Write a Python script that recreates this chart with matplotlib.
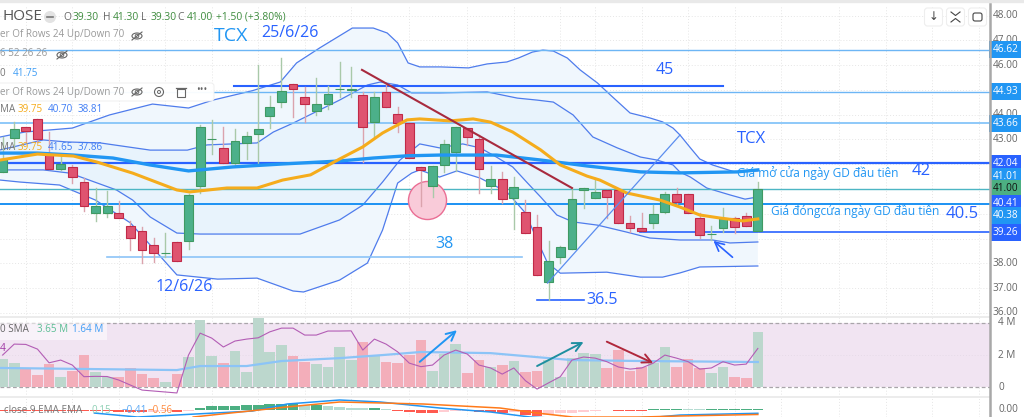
import matplotlib
matplotlib.use("Agg")
import matplotlib.pyplot as plt
from matplotlib.lines import Line2D
from matplotlib.patches import Rectangle, FancyBboxPatch, Ellipse, Circle
from matplotlib.transforms import Affine2D

plt.rcParams['font.family'] = ['Open Sans', 'DejaVu Sans']

# candles
opens = [41.67,43.07,43.49,43.81,42.41,41.79,41.90,41.27,40.02,40.02,40.02,39.50,39.31,38.74,38.42,38.86,
         38.91,41.12,43.01,42.64,42.04,42.84,43.21,43.96,44.53,45.23,44.73,44.16,44.42,45.02,45.01,44.80,
         43.69,44.91,44.02,43.65,41.90,41.12,41.97,42.51,43.45,43.02,41.12,41.42,40.62,40.06,39.48,37.23,
         38.26,38.59,40.96,40.62,40.97,40.96,39.61,39.41,39.61,40.06,40.80,40.80,39.82,39.17,39.41,39.82,39.91,39.30]
closes = [42.20,43.41,43.35,43.02,41.79,42.01,41.50,40.31,40.31,40.31,39.82,39.01,38.53,38.42,38.43,38.10,
          40.76,43.49,43.02,42.04,42.95,43.14,43.41,44.30,44.97,45.03,44.42,44.42,44.84,45.03,45.02,43.52,
          44.73,44.32,43.65,42.24,41.77,41.94,42.80,43.49,43.11,41.81,41.42,40.58,41.09,39.23,37.53,38.10,
          38.67,40.58,41.03,40.89,40.66,39.61,39.41,39.30,39.99,40.80,40.49,40.02,39.14,39.18,39.82,39.48,39.52,41.00]
highs = [43.10,43.71,43.49,43.81,43.30,42.37,41.97,41.44,41.04,40.93,40.51,39.72,39.45,39.01,39.21,38.86,
         40.80,43.58,43.79,43.49,43.41,43.31,46.01,44.76,46.28,45.23,45.11,45.50,45.16,46.13,45.93,44.93,
         44.93,45.27,44.32,43.65,41.90,41.94,42.98,43.49,43.45,43.18,41.94,41.70,41.47,40.55,39.95,38.91,
         38.71,41.03,41.03,41.43,40.97,40.96,39.91,40.02,40.35,40.89,41.04,40.80,40.03,39.50,40.23,39.88,40.03,41.30]
lows = [41.67,42.70,42.91,42.90,41.79,41.77,41.25,40.11,39.72,39.88,39.82,38.53,38.02,38.06,38.24,38.10,
        38.56,40.83,42.41,42.04,41.97,42.20,41.97,43.45,44.32,43.92,43.72,43.99,44.23,44.72,44.72,42.10,
        43.09,44.32,43.31,42.24,40.31,40.69,41.70,41.74,42.78,40.85,40.83,40.42,39.37,39.23,37.53,36.51,
        38.02,38.59,40.22,40.62,39.84,39.61,39.28,39.30,39.41,40.03,40.35,40.02,39.02,38.94,39.28,39.23,39.52,39.30]

# moving averages and bands: candle number, price
ma_yellow_i = [-0.2,3.0,6.1,8.1,11.2,15.0,16.1,19.3,21.9,24.1,26.5,29.0,31.0,32.7,34.8,35.9,38.5,40.5,42.0,43.9,46.3,48.0,50.3,51.4,53.7,56.6,58.3,60.0,61.7,63.7,65.0]
ma_yellow = [42.17,42.41,42.33,42.09,41.64,40.96,40.88,41.04,41.04,41.36,41.57,42.21,42.70,43.26,43.79,43.83,43.75,43.83,43.70,43.30,42.58,41.97,41.52,41.36,40.84,40.55,40.27,39.95,39.83,39.71,39.79]
ma_blue_i = [-0.2,3.0,6.1,9.5,12.7,16.0,19.8,24.1,29.0,31.9,34.8,37.6,42.5,46.3,50.3,54.9,58.3,63.2,65.0]
ma_blue = [42.45,42.45,42.37,42.25,41.97,41.73,41.89,42.01,42.13,42.25,42.34,42.37,42.37,42.17,41.93,41.69,41.65,41.69,41.77]

outer_up_i = [-0.2,1.9,6.0,9.2,12.9,16.0,18.1,21.5,23.9,25.3,27.3,30.1,31.9,33.1,34.0,34.9,35.9,37.7,40.1,41.7,43.4,44.4,45.6,46.5,47.4,48.6,49.7,51.2,52.3,54.0,55.7,56.8,57.7,58.3,59.2,60.0,61.1,63.0,65.0]
outer_up = [43.10,43.30,43.46,43.99,44.43,44.27,44.59,44.97,45.32,46.09,46.70,47.50,47.50,47.30,46.90,46.09,45.93,45.93,45.89,46.05,46.13,46.29,46.53,46.61,46.57,46.29,45.81,45.28,44.80,44.07,43.87,43.71,43.46,43.18,42.66,42.21,41.97,41.69,41.73]
inner_up_i = [-0.2,3.5,5.5,8.4,12.7,15.9,17.6,21.9,23.3,25.0,29.0,31.4,32.5,34.0,35.2,37.6,41.7,44.3,46.0,47.4,49.1,50.8,52.9,54.9,56.3,57.7,58.3,59.2,60.6,62.6,63.9,65.0]
inner_up = [42.58,42.98,42.90,42.86,42.57,42.57,42.78,42.86,43.30,43.66,44.59,45.20,45.32,45.20,44.88,44.88,44.92,44.67,44.59,44.51,43.99,43.10,42.66,42.29,42.17,41.97,41.68,41.48,41.04,40.76,40.59,40.68]
inner_lo_i = [-0.2,3.5,5.8,9.8,11.2,12.7,15.0,17.0,22.8,25.6,29.0,31.0,32.7,34.2,35.9,37.6,39.6,41.1,42.5,43.9,45.1,46.3,47.7,49.1,51.2,53.7,55.7,58.3,61.1,62.6,65.0]
inner_lo = [41.77,41.77,41.64,40.96,40.55,39.87,39.22,39.18,39.18,39.18,39.75,40.35,41.28,42.17,42.82,42.66,42.82,42.66,42.29,41.89,41.28,40.68,39.95,39.67,39.54,39.26,39.02,38.94,38.94,38.82,38.86]
outer_lo_i = [-0.2,1.5,4.9,8.0,11.0,15.0,18.5,21.9,25.0,25.9,29.0,31.4,32.7,34.0,35.2,35.9,37.6,39.1,41.1,43.4,45.0,46.0,46.9,48.0,52.0,54.9,56.8,58.3,60.0,65.0]
outer_lo = [41.36,41.28,41.16,40.55,39.63,37.53,37.36,37.40,36.88,36.84,37.32,38.01,39.34,41.24,41.64,41.77,41.48,41.73,41.44,40.88,40.03,38.94,38.01,37.60,37.64,37.44,37.44,37.61,37.85,37.89]

# volume panel (millions)
volumes = [1.75,1.52,1.13,0.76,1.46,0.66,1.01,2.00,0.93,0.62,0.62,1.18,0.80,0.59,0.35,0.80,1.86,4.17,1.94,1.49,2.25,0.93,4.29,2.17,2.62,1.94,1.59,1.44,1.28,2.51,1.69,2.82,2.00,1.59,1.49,2.00,2.93,1.01,2.06,2.68,0.87,1.69,1.24,1.38,1.65,0.95,0.99,1.69,0.66,1.80,2.11,2.08,1.18,2.31,1.03,1.24,1.49,2.48,1.28,1.75,1.18,0.90,1.28,0.66,0.59,3.44]
vol_purple = [2.00,2.68,2.66,2.37,1.52,1.69,1.38,0.66,0.68,0.67,0.45,0.14,-0.17,-0.23,-0.29,-0.35,2.00,3.36,3.05,2.50,2.87,2.99,3.07,3.44,3.67,3.67,3.24,3.24,3.49,3.49,3.50,2.31,2.99,2.68,2.20,1.50,1.28,1.38,2.00,2.31,2.06,1.38,1.20,0.82,1.20,0.41,-0.11,0.28,0.66,1.69,1.88,1.81,1.59,1.26,1.13,1.20,1.50,2.00,1.81,1.59,1.13,1.20,1.59,1.38,1.44,2.41]
vol_sma_i = [-0.2,15,17,21,24,29,32.7,36,42,47,49,55,65]
vol_sma = [1.20,1.07,1.32,1.32,1.63,1.81,2.00,2.19,2.12,1.81,1.69,1.63,1.57]

# macd panel
macd_hist = [-0.1,-0.1,-0.1,-0.1,-0.1,-0.1,-0.1,-0.1,-0.1,-0.1,-0.3,-0.3,-0.3,-0.2,-0.15,-0.2,-0.15,0.29,0.5,0.5,0.54,0.6,0.6,0.75,0.8,0.8,0.6,0.6,0.5,0.41,0.29,0.2,0.2,0.12,-0.12,-0.25,-0.33,-0.42,-0.2,-0.17,-0.12,-0.25,-0.3,-0.42,-0.2,-0.67,-0.75,-0.67,-0.42,-0.37,-0.2,-0.08,-0.04,-0.12,-0.12,-0.12,0.08,0.12,0.17,0.12,0.1,0.1,0.12,0.12,0.15,0.15]
macd_i = [7.9,11.6,21.5,24.5,29,32.5,37.6,42,45.4,50,56.3,58.3,65]
macd = [-0.38,-0.88,-0.13,0.75,1.25,1.0,0.25,-0.25,-0.88,-1.2,-0.88,-0.63,-0.41]
signal_i = [16.4,24.5,29,36.2,42.8,46,49.1,54.9,58.3,65]
signal = [-0.88,0.38,1.0,0.75,0.25,-0.38,-0.88,-0.88,-0.75,-0.56]

# price levels and axis tags
levels = [46.62,44.93,43.66,42.04,41.00,40.41,40.38]
level_colors = ["#6db6f5","#6db6f5","#7cc0f8","#2962ff","#4db6c4","#2962ff","#2196f3"]
level_widths = [1,1,1.2,1.6,1,1.4,1.4]
price_ticks = [48,47,46,44,43,38,37,36]
tag_values = ["46.62","44.93","43.66","42.04","41.01","41.00","40.41","40.38","39.26"]
tag_prices = [46.62,44.93,43.66,42.04,41.49,41.03,40.41,39.93,39.26]
tag_colors = ["#2196f3","#2196f3","#2196f3","#2962ff","#2196f3","#4caf82","#2962ff","#2196f3","#2962ff"]
grid_i = [2,6,10,14,18,22,26,30,35,40,44,48,51,55,59,63,67,72,76,80,84]

GREEN, RED = "#4cb08a", "#df5470"
GREEN_E, RED_E = "#3f9a63", "#c02a48"
W, H = 1024, 417

fig = plt.figure(figsize=(W/100, H/100), dpi=100)
px = Affine2D().scale(1/W, -1/H).translate(0, 1) + fig.transFigure


def panel(top, bottom, y_top, y_bottom):
    ax = fig.add_axes([0, 1-bottom/H, 990/W, (bottom-top)/H])
    ax.set_xlim(-0.224, 84.98)
    ax.set_ylim(y_bottom, y_top)
    ax.axis("off")
    for g in grid_i:
        ax.axvline(g, color="#e6e6e6", lw=0.7, ls=(0, (1, 2)), zorder=0)
    return ax


ax = panel(6, 317, 48.39, 35.83)
vol = panel(317, 397, 4.36, -0.6)
mac = panel(398, 417, 1.5, -0.875)

for p in range(36, 49):
    ax.axhline(p, color="#e6e6e6", lw=0.7, ls=(0, (1, 2)), zorder=0)

# bands
ax.fill(outer_up_i + outer_lo_i[::-1], outer_up + outer_lo[::-1], color="#f0f7fd", lw=0, zorder=1)
ax.fill(inner_up_i + inner_lo_i[::-1], inner_up + inner_lo[::-1], color="#e8f3fc", lw=0, zorder=1.1)
for xs, ys in [(outer_up_i, outer_up), (inner_up_i, inner_up), (inner_lo_i, inner_lo), (outer_lo_i, outer_lo)]:
    ax.plot(xs, ys, color="#4f7cec", lw=0.9, zorder=2)

for lv, c, w in zip(levels, level_colors, level_widths):
    ax.axhline(lv, color=c, lw=w, zorder=2.5)
ax.plot([54.9, 85], [39.26, 39.26], color="#2962ff", lw=1.2, zorder=2.5)
ax.plot([9, 44.7], [38.27, 38.27], color="#8cc4f7", lw=1.2, zorder=2.5)
ax.plot([19.9, 62], [45.16, 45.16], color="#2962ff", lw=1.5, zorder=2.5)
ax.plot([46, 50], [36.51, 36.51], color="#2962ff", lw=1.2, zorder=2.5)

ax.scatter([36.5], [40.55], s=750, color="#f9cbd9", edgecolors="#ea6e94", lw=1, zorder=2.6)

# candles
for i in range(len(opens)):
    up = closes[i] >= opens[i]
    ax.plot([i, i], [lows[i], highs[i]], color="#a9c9a9" if up else "#dba3ad", lw=1, zorder=3)
    ax.bar(i, abs(closes[i]-opens[i]), bottom=min(opens[i], closes[i]), width=0.76,
           color=GREEN if up else RED, edgecolor=GREEN_E if up else RED_E, lw=0.8, zorder=3.2)

ax.plot(ma_blue_i, ma_blue, color="#2196f3", lw=2.4, zorder=4)
ax.plot(ma_yellow_i, ma_yellow, color="#f5ac1c", lw=2.2, zorder=4.1)
ax.plot([30.93, 49], [45.81, 41.04], color="#a82a3e", lw=1.5, zorder=4.2)
ax.plot([46.9, 58.3], [37.20, 43.18], color="#5b8def", lw=0.9, zorder=4.2)
ax.annotate("", xy=(61, 38.98), xytext=(63, 38.17), zorder=5,
            arrowprops=dict(arrowstyle="->", color="#2962ff", lw=1.2, mutation_scale=16))

for p in price_ticks:
    ax.text(1.0155, p, f"{p:.2f}", transform=ax.get_yaxis_transform(), ha="center", va="center",
            fontsize=7.2, color="#666666", clip_on=False)
for t, p, c in zip(tag_values, tag_prices, tag_colors):
    ax.text(1.0155, p, t, transform=ax.get_yaxis_transform(), ha="center", va="center", fontsize=7.2,
            color="#111111" if c == "#4caf82" else "white", clip_on=False, zorder=6,
            bbox=dict(boxstyle="square,pad=0.3", fc=c, ec="none"))

# volume panel
vol.axhspan(0, 4, color="#f1e4f2", lw=0, zorder=0.5)
for lv in [0, 4]:
    vol.axhline(lv, color="#a9a5aa", lw=0.9, ls=(0, (3, 2)), zorder=1)
for lv in [2]:
    vol.axhline(lv, color="#e6dbe8", lw=0.7, ls=(0, (1, 2)), zorder=0.6)
vol_colors = ["#bcd7cd" if c >= o else "#f3aeba" for o, c in zip(opens, closes)]
vol.bar(range(len(volumes)), volumes, width=0.92, color=vol_colors, zorder=2)
vol.plot(vol_sma_i, vol_sma, color="#8cc4f7", lw=1.6, zorder=3)
vol.plot(range(len(vol_purple)), vol_purple, color="#b35db5", lw=0.8, zorder=4)
for start, end, c in [((35.9, 1.58), (39.1, 3.54), "#2196f3"),
                      ((46, 1.32), (50, 2.81), "#1e8fa0"),
                      ((52, 2.83), (56, 1.50), "#b0283c")]:
    vol.annotate("", xy=end, xytext=start, zorder=5,
                 arrowprops=dict(arrowstyle="->", color=c, lw=1.4, mutation_scale=16, shrinkA=0, shrinkB=0))
for v, t in [(4, "4 M"), (2, "2 M"), (0, "0")]:
    vol.text(1.0085, v, t, transform=vol.get_yaxis_transform(), va="center", fontsize=7.2,
             color="#666666", clip_on=False)

# macd panel
hist_colors = []
for i, h in enumerate(macd_hist):
    prev = macd_hist[i-1] if i else h
    if h >= 0:
        hist_colors.append("#4caf82" if h >= prev else "#b5dcd2")
    else:
        hist_colors.append("#ff5a4f" if h <= prev else "#ffcdd2")
mac.bar(range(len(macd_hist)), macd_hist, width=0.92, color=hist_colors, zorder=2)
mac.plot(macd_i, macd, color="#2196f3", lw=1.1, zorder=3)
mac.plot(signal_i, signal, color="#ff7a1a", lw=1.1, zorder=3.1)
mac.text(1.0085, 0, "0.00", transform=mac.get_yaxis_transform(), va="center", fontsize=7.2,
         color="#666666", clip_on=False)


# everything below is page furniture, placed in pixels
def add(artist):
    artist.set_transform(px)
    fig.add_artist(artist)


def label(x, y, s, size=7.1, color="#9a9a9a", **kw):
    fig.text(x, y, s, transform=px, fontsize=size, color=color, va="center", **kw)


def hline(x0, x1, y, color, lw=1):
    add(Line2D([x0, x1], [y, y], color=color, lw=lw))


def eye(x, y, color="#666666"):
    add(Ellipse((x, y), 10, 6, fc="none", ec=color, lw=0.8, zorder=2.5))
    add(Circle((x, y), 1.8, fc="none", ec=color, lw=0.7, zorder=2.5))
    add(Line2D([x-5, x+5], [y+4, y-4], color=color, lw=0.8, zorder=2.5))


hline(0, W, 1.5, "#e9e9e9", 2.4)
hline(0, 990, 317, "#ececec", 1.4)
hline(0, 990, 397.5, "#ececec", 1.4)
add(Line2D([990, 990], [4, 417], color="#a8a8a8", lw=1.8))

# legend rows
add(Circle((50, 17), 6, fc="#e3e3e3", ec="none"))
add(Line2D([47, 53], [17, 17], color="#777777", lw=1.2))
label(2, 17, "HOSE", size=11, color="#555555")
for x, k, v in [(63, "O", "39.30"), (103, "H", "41.30"), (141, "L", "39.30"), (177, "C", "41.00")]:
    label(x, 17, k, size=7.4, color="#666666")
    label(x+9.5, 17, v, size=7.4, color="#3d8b3d")
label(216, 17, "+1.50 (+3.80%)", size=7.4, color="#3d8b3d")
label(0, 35, "er Of Rows 24 Up/Down 70")
eye(137, 36)
label(0, 54, "6 52 26 26")
eye(62, 55)
label(0, 73, "0", color="#777777")
label(13, 73, "41.75", color="#3f9df5")

add(FancyBboxPatch((-4, 83), 218, 18, boxstyle="round,pad=0,rounding_size=3", fc="#ffffff", ec="#eeeeee", lw=0.7, alpha=0.95, zorder=2))
label(0, 92, "er Of Rows 24 Up/Down 70")
eye(137, 92)
add(Circle((159, 92), 4.5, fc="none", ec="#666666", lw=0.8, zorder=2.5))
add(Circle((159, 92), 1.5, fc="none", ec="#666666", lw=0.7, zorder=2.5))
add(Rectangle((177, 89), 8, 8, fc="none", ec="#666666", lw=0.8, zorder=2.5))
add(Line2D([176, 186], [88, 88], color="#666666", lw=0.9, zorder=2.5))
label(196, 91, "•••", size=7, color="#666666")

for y, vals in [(110, ["39.75", "40.70", "38.81"]), (148, ["39.75", "41.65", "37.86"])]:
    label(0, y, "MA", color="#777777")
    label(18, y, vals[0], color="#f5ac1c")
    label(48, y, vals[1], color="#3f7df5")
    label(78, y, vals[2], color="#3f7df5")

add(Rectangle((0, 323), 107, 17, fc="#ffffff", ec="none", alpha=0.55, zorder=2))
label(0, 330, "0 SMA", color="#666666")
label(37, 330, "3.65 M", color="#5cbf95")
label(72, 330, "1.64 M", color="#3f9df5")
label(0, 349, "4", size=7.5, color="#a03aa5")
label(4, 411, "close 9 EMA EMA", color="#777777")
label(92, 411, "0.15", color="#8fd0b5")
label(121, 411, "−0.41", color="#5aa8f5")
label(147, 411, "−0.56", color="#ff8a3c")

# chart buttons
for bx in [933.5, 955.5, 977.5]:
    add(FancyBboxPatch((bx-9, 8), 18, 18, boxstyle="round,pad=0,rounding_size=3", fc="white", ec="#eeeeee", lw=0.8))
label(933.5, 17, "↓", size=8.5, color="#444444", ha="center", family="DejaVu Sans")
add(Line2D([951, 955.5, 960], [12, 15.5, 12], color="#444444", lw=0.8))
add(Line2D([951, 955.5, 960], [22, 18.5, 22], color="#444444", lw=0.8))
add(FancyBboxPatch((973, 13), 9, 8, boxstyle="round,pad=0,rounding_size=2", fc="none", ec="#444444", lw=0.8, zorder=2))

# hand written notes
label(214, 36, "TCX", size=14, color="#2196f3")
label(261, 33, "25/6/26", size=11.5, color="#2962ff")
label(656, 70, "45", size=11.5, color="#2962ff")
label(435, 244, "38", size=11.5, color="#2196f3")
label(156, 287, "12/6/26", size=11.5, color="#2962ff")
label(586, 300, "36.5", size=11.5, color="#2962ff")
label(737, 139, "TCX", size=12, color="#2962ff")
label(737, 173, "Giá mở cửa ngày GD đầu tiên", size=8.6, color="#2196f3")
label(912, 171, "42", size=12, color="#2962ff")
label(771, 211, "Giá đóngcửa ngày GD đầu tiên", size=8.6, color="#2196f3")
label(946, 214, "40.5", size=12, color="#2962ff")

fig.savefig("out.png", dpi=100)
